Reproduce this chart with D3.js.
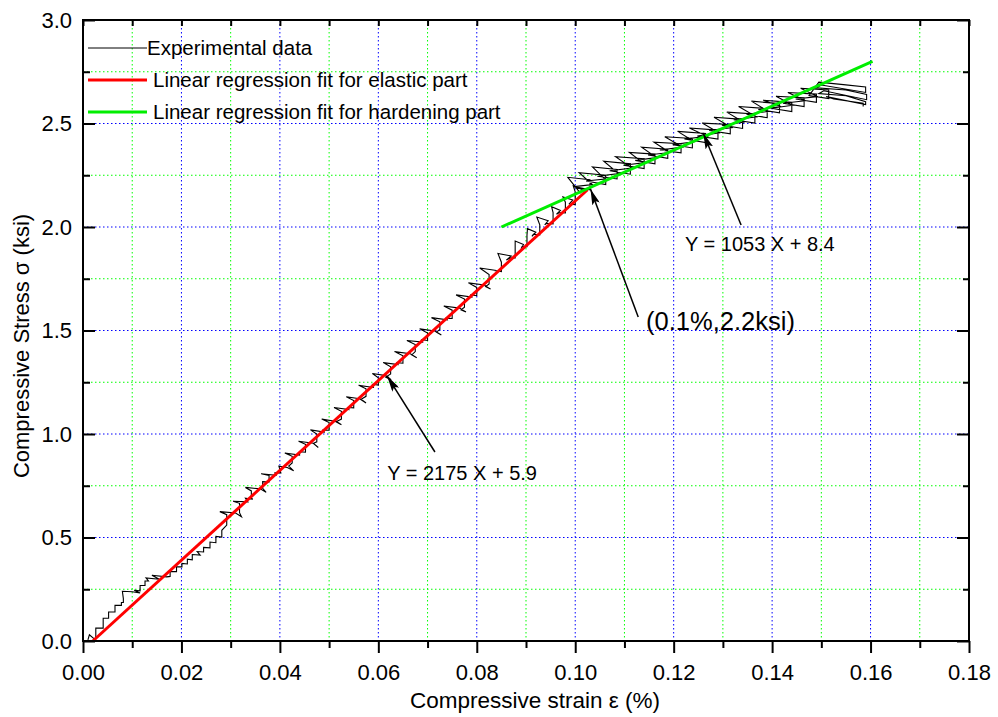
<!DOCTYPE html>
<html><head><meta charset="utf-8">
<script src="https://cdn.jsdelivr.net/npm/d3@7"></script>
<style>
html,body{margin:0;padding:0;background:#fff;}
svg{display:block;font-family:"Liberation Sans",Arial,sans-serif;}
</style></head>
<body>
<svg id="chart" width="998" height="717"></svg>
<script>
// ---------- data ----------
const xMajorTicks = [0,0.02,0.04,0.06,0.08,0.10,0.12,0.14,0.16,0.18];
const xMinorTicks = [0.01,0.03,0.05,0.07,0.09,0.11,0.13,0.15,0.17];
const yMajorTicks = [0,0.5,1.0,1.5,2.0,2.5,3.0];
const yMinorTicks = [0.25,0.75,1.25,1.75,2.25,2.75];

const xTitle = "Compressive strain \u03b5 (%)";
const yTitle = "Compressive Stress \u03c3 (ksi)";
const legendLabels = ["Experimental data","Linear regression fit for elastic part","Linear regression fit for hardening part"];

// experimental stress-strain record: [strain %, stress ksi]
const expEarly = [
[0.0010,0.005],[0.0013,0.030],[0.0024,0.008],[0.0026,0.010],[0.0026,0.062],[0.0041,0.062],[0.0041,0.110],[0.0052,0.110],[0.0052,0.140],[0.0065,0.140],
[0.0065,0.172],[0.0078,0.172],[0.0078,0.186],[0.0082,0.186],[0.0082,0.205],[0.0080,0.240],[0.0100,0.238],[0.0116,0.232],[0.0104,0.245],[0.0116,0.242],
[0.0116,0.268],[0.0126,0.268],[0.0126,0.290],[0.0133,0.290],[0.0128,0.305],[0.0155,0.298],[0.0140,0.318],[0.0170,0.310],[0.0177,0.312],[0.0177,0.335],
[0.0190,0.335],[0.0190,0.358],[0.0201,0.358],[0.0201,0.375],[0.0212,0.372],[0.0212,0.395],[0.0222,0.392],[0.0222,0.418],[0.0238,0.415],[0.0232,0.432],
[0.0245,0.430],[0.0245,0.452],[0.0258,0.450],[0.0258,0.478],[0.0270,0.475],[0.0270,0.505],[0.0282,0.502],[0.0282,0.535]
];
const expElastic = [
[0.0292,0.560],[0.0292,0.610],[0.0278,0.625],[0.0310,0.618],[0.0322,0.600],
[0.0318,0.620],[0.0318,0.665],[0.0305,0.675],[0.0335,0.672],[0.0330,0.690],[0.0345,0.685],
[0.0342,0.690],[0.0342,0.725],[0.0330,0.742],[0.0360,0.735],[0.0372,0.718],
[0.0365,0.738],[0.0365,0.770],[0.0378,0.768],[0.0378,0.800],[0.0362,0.808],[0.0392,0.800],
[0.0390,0.812],[0.0402,0.812],[0.0398,0.845],[0.0415,0.838],[0.0428,0.822],
[0.0418,0.845],[0.0425,0.860],[0.0425,0.892],[0.0410,0.908],[0.0440,0.898],
[0.0440,0.915],[0.0452,0.912],[0.0452,0.950],[0.0438,0.965],[0.0468,0.955],[0.0478,0.935],
[0.0468,0.955],[0.0475,0.962],[0.0475,1.000],[0.0462,1.020],[0.0490,1.010],
[0.0488,1.020],[0.0500,1.018],[0.0500,1.055],[0.0485,1.072],[0.0512,1.062],[0.0525,1.045],
[0.0515,1.060],[0.0525,1.072],[0.0525,1.110],[0.0510,1.128],[0.0540,1.118],
[0.0538,1.128],[0.0550,1.126],[0.0550,1.162],[0.0535,1.180],[0.0562,1.170],[0.0575,1.150],
[0.0565,1.168],[0.0575,1.182],[0.0575,1.218],[0.0560,1.235],[0.0590,1.225],
[0.0588,1.240],[0.0600,1.236],[0.0600,1.272],[0.0588,1.292],[0.0615,1.282],[0.0626,1.262],
[0.0615,1.275],[0.0625,1.290],[0.0625,1.325],[0.0610,1.345],[0.0640,1.335],
[0.0638,1.345],[0.0650,1.342],[0.0650,1.378],[0.0633,1.398],[0.0665,1.388],[0.0678,1.368],
[0.0668,1.382],[0.0675,1.398],[0.0675,1.432],[0.0658,1.452],[0.0690,1.444],
[0.0688,1.455],[0.0700,1.452],[0.0700,1.488],[0.0684,1.508],[0.0715,1.498],[0.0728,1.478],
[0.0718,1.492],[0.0725,1.505],[0.0725,1.542],[0.0708,1.562],[0.0740,1.552],
[0.0738,1.560],[0.0750,1.558],[0.0750,1.598],[0.0733,1.618],[0.0765,1.608],[0.0778,1.590],
[0.0768,1.600],[0.0775,1.612],[0.0775,1.652],[0.0758,1.672],[0.0790,1.662],
[0.0788,1.672],[0.0800,1.668],[0.0800,1.708],[0.0783,1.730],[0.0815,1.720],[0.0828,1.700],
[0.0818,1.712],[0.0825,1.725],[0.0825,1.770],[0.0806,1.802],[0.0840,1.790],
[0.0835,1.790],[0.0850,1.785],[0.0850,1.830],[0.0843,1.872],[0.0870,1.860],[0.0860,1.840],
[0.0868,1.850],[0.0878,1.850],[0.0878,1.900],[0.0878,1.932],[0.0895,1.915],[0.0890,1.895],
[0.0892,1.905],[0.0902,1.905],[0.0902,1.960],[0.0903,1.992],[0.0920,1.975],[0.0912,1.955],
[0.0915,1.965],[0.0928,1.962],[0.0928,2.010],[0.0922,2.048],[0.0945,2.030],[0.0938,2.010],
[0.0942,2.018],[0.0955,2.015],[0.0955,2.070],[0.0952,2.098],[0.0970,2.080],[0.0962,2.062],
[0.0968,2.070],[0.0980,2.068],[0.0980,2.120],[0.0975,2.145],[0.0995,2.130],[0.0988,2.112],
[0.0990,2.110],[0.1000,2.108],[0.1000,2.170],[0.0996,2.198],[0.1015,2.180],[0.1010,2.165]
];
const expHardening = [
[0.0985,2.240],[0.1030,2.228],[0.1030,2.180],[0.0998,2.195],[0.1035,2.205],
[0.1008,2.262],[0.1062,2.250],[0.1062,2.205],[0.1022,2.222],[0.1060,2.232],
[0.1035,2.290],[0.1085,2.278],[0.1085,2.232],[0.1045,2.245],[0.1088,2.258],
[0.1058,2.318],[0.1112,2.305],[0.1112,2.255],[0.1070,2.272],[0.1115,2.285],
[0.1082,2.340],[0.1140,2.330],[0.1140,2.282],[0.1098,2.298],[0.1138,2.310],
[0.1110,2.360],[0.1162,2.352],[0.1162,2.305],[0.1122,2.322],[0.1165,2.335],
[0.1135,2.385],[0.1188,2.376],[0.1188,2.332],[0.1148,2.348],[0.1192,2.360],
[0.1160,2.410],[0.1215,2.402],[0.1215,2.358],[0.1172,2.372],[0.1218,2.386],
[0.1182,2.436],[0.1238,2.428],[0.1238,2.382],[0.1198,2.398],[0.1242,2.412],
[0.1208,2.462],[0.1265,2.452],[0.1265,2.408],[0.1222,2.425],[0.1268,2.438],
[0.1232,2.478],[0.1290,2.468],[0.1290,2.425],[0.1248,2.440],[0.1292,2.455],
[0.1258,2.502],[0.1315,2.495],[0.1315,2.450],[0.1272,2.466],[0.1318,2.480],
[0.1282,2.530],[0.1340,2.520],[0.1340,2.476],[0.1298,2.492],[0.1342,2.506],
[0.1308,2.555],[0.1365,2.546],[0.1365,2.502],[0.1322,2.518],[0.1368,2.532],
[0.1332,2.582],[0.1390,2.572],[0.1390,2.528],[0.1348,2.545],[0.1392,2.558],
[0.1358,2.608],[0.1415,2.596],[0.1415,2.552],[0.1372,2.568],[0.1418,2.582],
[0.1382,2.612],[0.1440,2.602],[0.1440,2.558],[0.1398,2.574],[0.1442,2.588],
[0.1408,2.632],[0.1465,2.624],[0.1465,2.582],[0.1422,2.598],[0.1468,2.610],
[0.1432,2.650],[0.1490,2.642],[0.1490,2.602],[0.1448,2.618],[0.1492,2.630],
[0.1458,2.670],[0.1515,2.662],[0.1515,2.620],[0.1475,2.635],
[0.1495,2.700],[0.1545,2.688],[0.1590,2.676],[0.1590,2.650],[0.1500,2.686],[0.1490,2.672],[0.1550,2.662],[0.1592,2.640],
[0.1592,2.615],[0.1505,2.658],[0.1495,2.645],[0.1550,2.634],[0.1590,2.605],[0.1590,2.592],[0.1510,2.630],[0.1525,2.618],
[0.1585,2.598],[0.1585,2.582]
];

// regression fits (endpoints)
const elasticStrain = [0.0020, 0.1025];
const elasticStress = [0.000, 2.180];
const hardeningStrain = [0.0850, 0.1604];
const hardeningStress = [2.000, 2.800];

// annotations: [tail strain, tail stress, tip strain, tip stress]
const annotArrows = [
  [0.0715, 0.913, 0.0618, 1.280],
  [0.1128, 1.565, 0.1031, 2.184],
  [0.1337, 2.010, 0.1260, 2.454]
];
const annotTexts = ["Y = 2175 X + 5.9", "(0.1%,2.2ksi)", "Y = 1053 X + 8.4"];
const annotTextX = [0.0618, 0.1144, 0.1223];
const annotTextY = [0.778, 1.502, 1.884];

// ---------- drawing ----------
const svg = d3.select("#chart");
svg.append("rect").attr("width",998).attr("height",717).attr("fill","#fff");

const L = 83, R = 969, T = 20, B = 641;
const x = d3.scaleLinear().domain([0,0.18]).range([L,R]);
const y = d3.scaleLinear().domain([0,3]).range([B,T]);

const grid = svg.append("g");
function vGrid(vals, color){
  grid.selectAll(null).data(vals).enter().append("line")
    .attr("x1",d=>x(d)).attr("x2",d=>x(d)).attr("y1",T).attr("y2",B)
    .attr("stroke",color).attr("stroke-width",1).attr("stroke-dasharray","1.5,2.5");
}
function hGrid(vals, color){
  grid.selectAll(null).data(vals).enter().append("line")
    .attr("y1",d=>y(d)).attr("y2",d=>y(d)).attr("x1",L).attr("x2",R)
    .attr("stroke",color).attr("stroke-width",1).attr("stroke-dasharray","1.5,2.5");
}
vGrid(xMajorTicks.filter(d=>d>0&&d<0.18), "#0000ff");
vGrid(xMinorTicks, "#00ff00");
hGrid(yMajorTicks.filter(d=>d>0&&d<3), "#0000ff");
hGrid(yMinorTicks, "#00ff00");

const line = d3.line().x(d=>x(d[0])).y(d=>y(d[1]));
const expData = expEarly.concat(expElastic, expHardening);
svg.append("path").datum(expData).attr("d",line)
  .attr("fill","none").attr("stroke","#000").attr("stroke-width",1.1).attr("stroke-linejoin","miter");

svg.append("path").datum(elasticStrain.map((s,i)=>[s,elasticStress[i]])).attr("d",line)
  .attr("fill","none").attr("stroke","#ff0000").attr("stroke-width",3);
svg.append("path").datum(hardeningStrain.map((s,i)=>[s,hardeningStress[i]])).attr("d",line)
  .attr("fill","none").attr("stroke","#00ee00").attr("stroke-width",3);

// axes
function styleAxis(g){
  g.select(".domain").remove();
  g.selectAll(".tick line").attr("stroke","#000").attr("stroke-width",2);
  g.selectAll(".tick text").attr("fill","#000").style("font-size","22px").style("font-family","'Liberation Sans',Arial,sans-serif");
}
svg.append("g").attr("transform",`translate(0,${B})`)
  .call(d3.axisBottom(x).tickValues(xMajorTicks).tickSize(12).tickPadding(11).tickFormat(d3.format(".2f"))).call(styleAxis);
svg.append("g").attr("transform",`translate(0,${B})`)
  .call(d3.axisBottom(x).tickValues(xMinorTicks).tickSize(7).tickFormat("")).call(styleAxis);
svg.append("g").attr("transform",`translate(${L},0)`)
  .call(d3.axisLeft(y).tickValues(yMajorTicks).tickSize(-12).tickPadding(11).tickFormat(d3.format(".1f"))).call(styleAxis);
svg.append("g").attr("transform",`translate(${L},0)`)
  .call(d3.axisLeft(y).tickValues(yMinorTicks).tickSize(-7).tickFormat("")).call(styleAxis);
svg.append("g").attr("transform",`translate(0,${T})`)
  .call(d3.axisTop(x).tickValues(xMajorTicks.concat(xMinorTicks)).tickSize(-6).tickFormat("")).call(styleAxis);
svg.append("g").attr("transform",`translate(${R},0)`)
  .call(d3.axisRight(y).tickValues(yMajorTicks).tickSize(-12).tickFormat("")).call(styleAxis);
svg.append("g").attr("transform",`translate(${R},0)`)
  .call(d3.axisRight(y).tickValues(yMinorTicks).tickSize(-6).tickFormat("")).call(styleAxis);

svg.append("rect").attr("x",L).attr("y",T).attr("width",R-L).attr("height",B-T)
  .attr("fill","none").attr("stroke","#000").attr("stroke-width",2);

// axis titles
svg.append("text").attr("x",(L+R)/2+9).attr("y",708).attr("text-anchor","middle")
  .style("font-size","22.5px").text(xTitle);
svg.append("text").attr("transform","translate(29,346) rotate(-90)").attr("text-anchor","middle")
  .style("font-size","22px").text(yTitle);

// legend
const legColors = ["#000","#ff0000","#00ee00"];
const legWidths = [1,3,3];
const legY = [48,80,112];
const legTextX = [147,153,153];
legendLabels.forEach((lab,i)=>{
  svg.append("line").attr("x1",88).attr("x2",147).attr("y1",legY[i]).attr("y2",legY[i])
    .attr("stroke",legColors[i]).attr("stroke-width",legWidths[i]);
  svg.append("text").attr("x",legTextX[i]).attr("y",legY[i]+7).style("font-size","20.5px").text(lab);
});

// annotations
svg.append("defs").append("marker").attr("id","ah").attr("viewBox","0 0 16 8")
  .attr("refX",16).attr("refY",4).attr("markerWidth",16).attr("markerHeight",8)
  .attr("markerUnits","userSpaceOnUse").attr("orient","auto")
  .append("path").attr("d","M0,0 L16,4 L0,8 L3,4 Z").attr("fill","#000");
annotArrows.forEach(a=>{
  svg.append("line").attr("x1",x(a[0])).attr("y1",y(a[1])).attr("x2",x(a[2])).attr("y2",y(a[3]))
    .attr("stroke","#000").attr("stroke-width",1.5).attr("marker-end","url(#ah)");
});
const annotSizes = ["20px","25.5px","20px"];
annotTexts.forEach((t,i)=>{
  svg.append("text").attr("x",x(annotTextX[i])).attr("y",y(annotTextY[i]))
    .style("font-size",annotSizes[i]).text(t);
});
</script>
</body></html>
